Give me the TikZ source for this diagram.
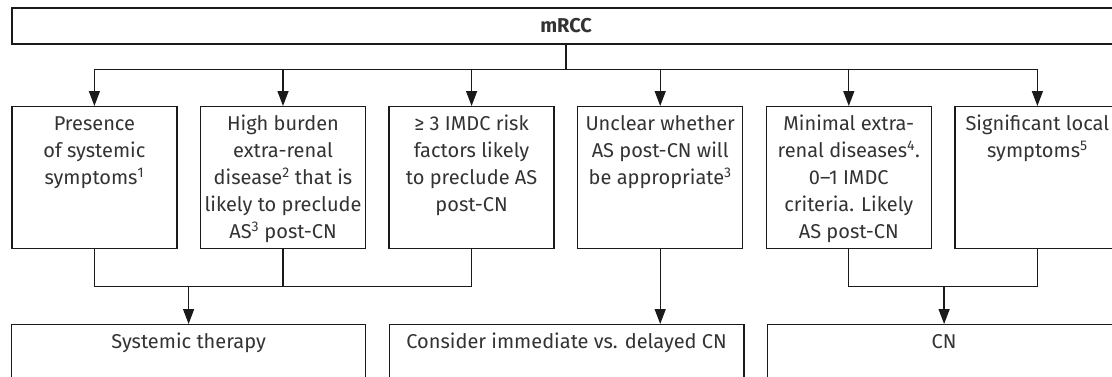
\documentclass[tikz,border=0pt]{standalone}
\usepackage{fontspec}
\setmainfont{Fira Sans}
\usetikzlibrary{arrows.meta,calc}
\definecolor{ln}{HTML}{1A1A1A}
\definecolor{tx}{HTML}{333333}
\newcommand{\tbox}[3]{\parbox[t][#1][t]{#2}{\centering\strut #3}}
\begin{document}
\begin{tikzpicture}[x=1pt,y=-1pt,
  every node/.style={text=tx,font=\fontsize{20}{27}\selectfont},
  box/.style={draw=ln,line width=1.35pt,inner xsep=3pt,inner ysep=5pt,anchor=north,fill=white},
  arr/.style={draw=ln,line width=1.35pt,-{Triangle[width=11pt,length=15pt]}},
  ln/.style={draw=ln,line width=1.35pt}]
\useasboundingbox (0,0) rectangle (1112,376);
\fill[white] (0,0) rectangle (1112,376);
\clip (0,0) rectangle (1112,376);
% top box
\node[box,minimum width=1108.4pt,minimum height=36pt,anchor=center] (top) at (566.1,26) {\textbf{mRCC}};
% row of boxes
\node[box] (b1) at (94.4,106) {\tbox{132pt}{159pt}{Presence\\of systemic\\symptoms\textsuperscript{1}}};
\node[box] (b2) at (283.0,106) {\tbox{132pt}{159pt}{High burden\\extra-renal\\disease\textsuperscript{2} that is\\likely to preclude\\AS\textsuperscript{3} post-CN}};
\node[box] (b3) at (471.6,106) {\tbox{132pt}{159pt}{≥ 3 IMDC risk\\factors likely\\to preclude AS\\post-CN}};
\node[box] (b4) at (660.2,106) {\tbox{132pt}{159pt}{Unclear whether\\AS post-CN will\\be appropriate\textsuperscript{3}}};
\node[box] (b5) at (848.8,106) {\tbox{132pt}{159pt}{Minimal extra-\\renal diseases\textsuperscript{4}.\\0--1 IMDC\\criteria. Likely\\AS post-CN}};
\node[box] (b6) at (1037.4,106) {\tbox{132pt}{159pt}{Significant local\\symptoms\textsuperscript{5}}};
% bottom boxes
\node[box] (s1) at (188.6,324) {\tbox{80pt}{347.6pt}{Systemic therapy}};
\node[box] (s2) at (566.6,324) {\tbox{80pt}{348.6pt}{Consider immediate vs. delayed CN}};
\node[box] (s3) at (944.1,324) {\tbox{80pt}{347.6pt}{CN}};
% top connectors
\foreach \b in {b1,b2,b3,b4,b5,b6}{
  \draw[arr] (top.south) -- ++(0,25) -| (\b.north);
}
% lower connectors
\draw[ln] (b1.south) -- ++(0,37) -| (b3.south);
\draw[ln] (b2.south) -- ++(0,37);
\draw[arr] ($(b1.south)+(0,37)$) -| (s1.north);
\draw[arr] (b4.south) -- (b4.south |- s2.north);
\draw[ln] (b5.south) -- ++(0,37) -| (b6.south);
\draw[arr] ($(b5.south)+(0,37)$) -| (s3.north);
\end{tikzpicture}
\end{document}
